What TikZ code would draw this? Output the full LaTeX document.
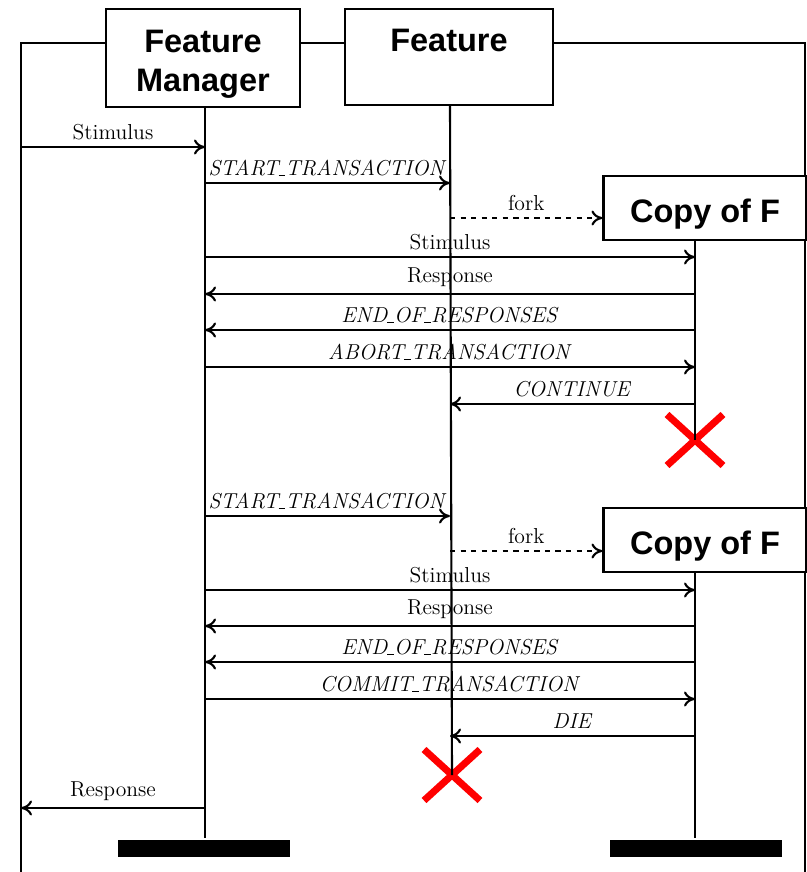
\documentclass[tikz,border=0pt]{standalone}
\usepackage{fontspec}
\newfontfamily\boxfont{Liberation Sans}
\usetikzlibrary{shapes.misc, arrows.meta}
\newcommand{\usc}{\rule{0.32em}{0.45pt}}
\newcommand{\lowr}[1]{\raisebox{-3.5pt}[\height][\depth]{#1}}
\begin{document}
\begin{tikzpicture}[x=0.02cm, y=-0.02cm, line width=1.2pt,
    >={Computer Modern Rightarrow[length=2.2mm, width=3mm]},
    head/.style={draw, fill=white, inner sep=0pt, align=center,
        font=\boxfont\bfseries\fontsize{18.5}{22}\selectfont},
    bar/.style={fill=black, inner sep=0pt, minimum width=3.44cm, minimum height=0.34cm},
    kill/.style={cross out, draw=red, line width=4pt, inner sep=0pt,
        minimum width=0.98cm, minimum height=0.88cm},
    lbl/.style={midway, above, inner sep=3.5pt, font=\fontsize{12.3}{14}\selectfont},
    msg/.style={->}]
    \useasboundingbox (0,0) rectangle (807,872);

    % Frame of the environment
    \draw (21,872) -- (21,43) -- (805,43) -- (805,872);

    % Heads of the lifelines
    \node[head, minimum width=3.88cm, minimum height=1.96cm] (fmbox) at (203,58) {\lowr{\strut Feature}\\\lowr{\strut Manager}};
    \node[head, minimum width=4.16cm, minimum height=1.92cm] (ftbox) at (449,57) {\lowr{\strut Feature}\\\strut};
    \node[head, minimum width=4.06cm, minimum height=1.28cm] (copyA) at (705,208) {\lowr{Copy of F}};
    \node[head, minimum width=4.06cm, minimum height=1.28cm] (copyB) at (705,540) {\lowr{Copy of F}};

    % Ends of the lifelines
    \node[bar] (fmbar) at (204,848) {};
    \node[bar] (cpbar) at (696,848) {};
    \node[kill] (killA) at (695,440) {};
    \node[kill] (killB) at (452,775) {};

    % One row of points per message: env, fm, ft, cp
    \foreach \n/\y in {1/147, 2/183, 3/218, 4/257, 5/294, 6/330, 7/367, 8/404,
                       9/516, 10/551, 11/590, 12/626, 13/662, 14/699, 15/736, 16/808} {
        \coordinate (env\n) at (21,\y);
        \coordinate (fm\n) at (205,\y);
        \coordinate (ft\n) at (450,\y);
        \coordinate (cp\n) at (695,\y);
    }

    % Lifelines
    \draw (fm1 |- fmbox.south) -- (fm1 |- fmbar.north);
    \draw (ft1 |- ftbox.south) -- (killB.center);
    \draw (cp1 |- copyA.south) -- (killA.center);
    \draw (cp1 |- copyB.south) -- (cp1 |- cpbar.north);

    % First round: aborted
    \draw[msg] (env1) -- (fm1) node[lbl] {Stimulus};
    \draw[msg] (fm2) -- (ft2) node[lbl] {\textit{START\usc TRANSACTION}};
    \draw[msg, dashed] (ft3) -- (copyA.west |- ft3) node[lbl] {fork};
    \draw[msg] (fm4) -- (cp4) node[lbl] {Stimulus};
    \draw[msg] (cp5) -- (fm5) node[lbl] {Response};
    \draw[msg] (cp6) -- (fm6) node[lbl] {\textit{END\usc OF\usc RESPONSES}};
    \draw[msg] (fm7) -- (cp7) node[lbl] {\textit{ABORT\usc TRANSACTION}};
    \draw[msg] (cp8) -- (ft8) node[lbl] {\textit{CONTINUE}};

    % Second round: committed
    \draw[msg] (fm9) -- (ft9) node[lbl] {\textit{START\usc TRANSACTION}};
    \draw[msg, dashed] (ft10) -- (copyB.west |- ft10) node[lbl] {fork};
    \draw[msg] (fm11) -- (cp11) node[lbl] {Stimulus};
    \draw[msg] (cp12) -- (fm12) node[lbl] {Response};
    \draw[msg] (cp13) -- (fm13) node[lbl] {\textit{END\usc OF\usc RESPONSES}};
    \draw[msg] (fm14) -- (cp14) node[lbl] {\textit{COMMIT\usc TRANSACTION}};
    \draw[msg] (cp15) -- (ft15) node[lbl] {\textit{DIE}};
    \draw[msg] (fm16) -- (env16) node[lbl] {Response};

\end{tikzpicture}
\end{document}
